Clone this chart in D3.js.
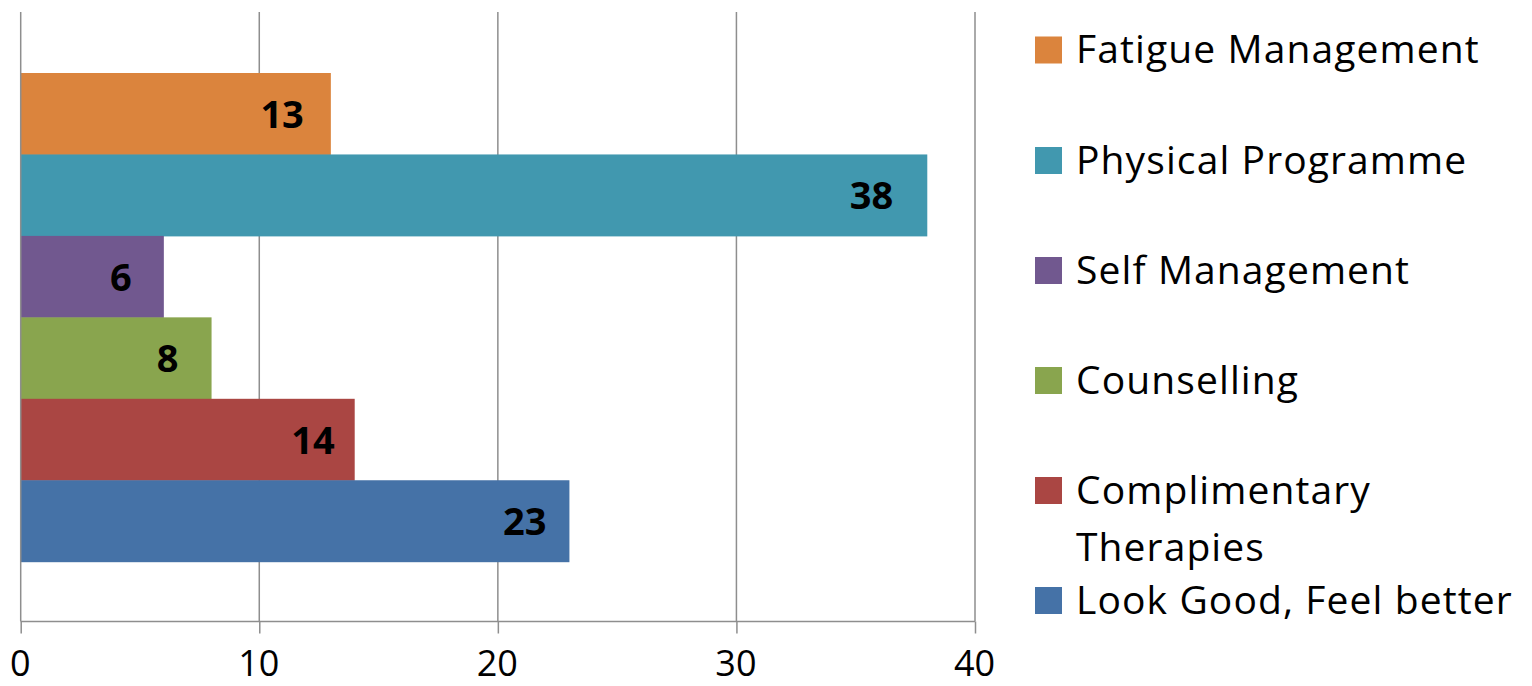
<!DOCTYPE html>
<html><head><meta charset="utf-8">
<script src="https://cdn.jsdelivr.net/npm/d3@7"></script>
<style>
html,body{margin:0;padding:0;background:#fff;}
svg{display:block;}
text{font-family:"Open Sans",sans-serif;}
</style></head>
<body>
<svg id="c" width="1532" height="686"></svg>
<script>
const series = ["Fatigue Management","Physical Programme","Self Management","Counselling","Complimentary Therapies","Look Good, Feel better"];
const values = [13,38,6,8,14,23];
const colors = ["#DB843D","#4198AF","#71588F","#89A54E","#AA4643","#4572A7"];
const legendLines = [["Fatigue Management"],["Physical Programme"],["Self Management"],["Counselling"],["Complimentary","Therapies"],["Look Good, Feel better"]];
const xTicks = [0,10,20,30,40];

(function(){
const svg = d3.select("#c");
const pLeft = 20.7, pRight = 975, pTop = 12, pBottom = 621.5;
const labelInset = [27,34,32,33,20,23];
const x = d3.scaleLinear().domain([0,40]).range([pLeft,pRight]);
const y = d3.scaleBand().domain(series).range([73,561.7]).paddingInner(0).paddingOuter(0);

// gridlines
svg.append("g").selectAll("line").data(xTicks.slice(1)).join("line")
  .attr("x1",d=>x(d)).attr("x2",d=>x(d)).attr("y1",pTop).attr("y2",pBottom)
  .attr("stroke","#8e8e8e").attr("stroke-width",1.5);

// bars
svg.append("g").selectAll("rect").data(series).join("rect")
  .attr("x",x(0)).attr("y",d=>y(d)).attr("height",y.bandwidth()+0.5)
  .attr("width",(d,i)=>x(values[i])-x(0)).attr("fill",(d,i)=>colors[i]);

// labels
svg.append("g").selectAll("text").data(series).join("text")
  .attr("x",(d,i)=>x(values[i])-labelInset[i]).attr("y",d=>y(d)+y.bandwidth()/2+14)
  .attr("text-anchor","end")
  .attr("font-weight","bold").attr("font-size",38).attr("fill","#000")
  .text((d,i)=>values[i]);

// y axis line
svg.append("line").attr("x1",pLeft).attr("x2",pLeft).attr("y1",pTop).attr("y2",pBottom)
  .attr("stroke","#8e8e8e").attr("stroke-width",1.5);

// x axis
const xAxis = d3.axisBottom(x).tickValues(xTicks).tickSize(12).tickFormat(d3.format("d"));
const gx = svg.append("g").attr("transform",`translate(0,${pBottom})`).call(xAxis);
gx.select(".domain").attr("stroke","#8e8e8e").attr("stroke-width",1.5).attr("d",`M${pLeft},0H${pRight}`);
gx.selectAll(".tick line").attr("stroke","#8e8e8e").attr("stroke-width",1.5);
gx.selectAll(".tick text").attr("font-size",36).attr("fill","#000").attr("font-family","Open Sans, sans-serif")
  .attr("y",54).attr("dy",0).attr("x",-1);

// legend
const centers = [50,160.5,270.5,380.5,490.5,600.5];
const lg = svg.append("g");
legendLines.forEach((lines,i)=>{
  lg.append("rect").attr("x",1035).attr("y",centers[i]-13.5).attr("width",27).attr("height",27).attr("fill",colors[i]);
  const t = lg.append("text").attr("x",1076).attr("y",centers[i]+13).attr("font-size",39)
    .attr("letter-spacing",1.1).attr("fill","#000");
  lines.forEach((l,j)=>t.append("tspan").attr("x",1076).attr("dy",j?57:0).text(l));
});
})();
</script>
</body></html>
